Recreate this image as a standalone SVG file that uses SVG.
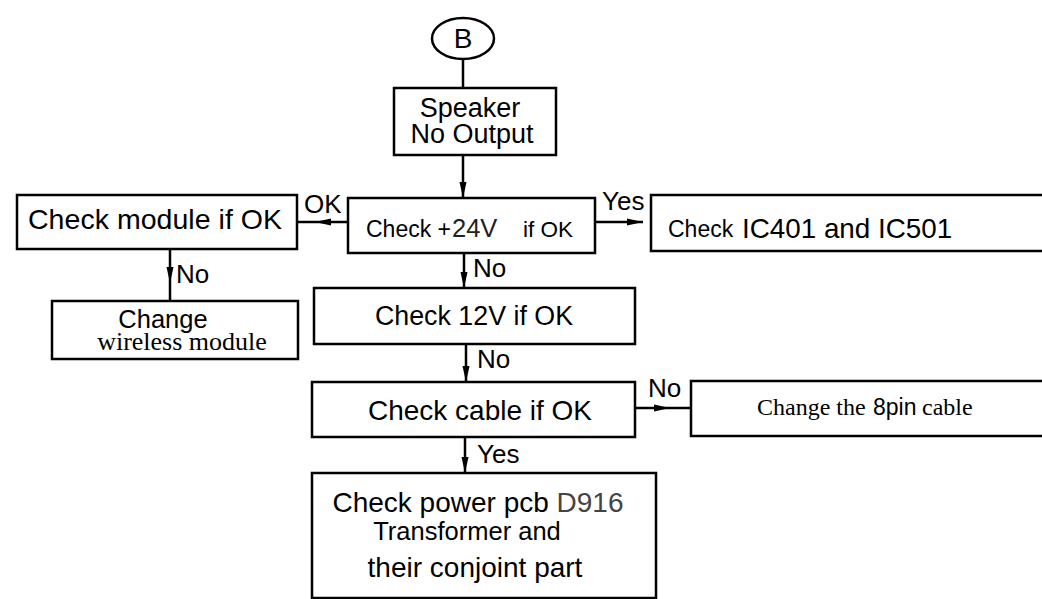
<svg xmlns="http://www.w3.org/2000/svg" width="1042" height="599" viewBox="0 0 1042 599">
<style>
.box{fill:#fff;stroke:#000;stroke-width:2.5}
.ln{fill:none;stroke:#000;stroke-width:2.5}
.t{font-family:"Liberation Sans",Arial,sans-serif;fill:#000}
.s{font-family:"Liberation Serif","Times New Roman",serif;fill:#000}
</style>
<defs>
<marker id="ah" markerUnits="userSpaceOnUse" markerWidth="16" markerHeight="8" refX="16" refY="4" orient="auto">
<path d="M0,0.5 L16,4 L0,7.5 z" fill="#000"/>
</marker>
</defs>
<g id="connectors">
<line class="ln" x1="463" y1="59" x2="463" y2="88"/>
<line class="ln" x1="463" y1="155" x2="463" y2="198" marker-end="url(#ah)"/>
<line class="ln" x1="348" y1="222" x2="315" y2="222" marker-end="url(#ah)"/>
<line class="ln" x1="315" y1="222" x2="297" y2="222"/>
<line class="ln" x1="595" y1="222" x2="643" y2="222" marker-end="url(#ah)"/>
<line class="ln" x1="170" y1="249" x2="170" y2="283" marker-end="url(#ah)"/>
<line class="ln" x1="170" y1="283" x2="170" y2="301"/>
<line class="ln" x1="464" y1="253" x2="464" y2="288" marker-end="url(#ah)"/>
<line class="ln" x1="466" y1="344" x2="466" y2="382" marker-end="url(#ah)"/>
<line class="ln" x1="635" y1="408" x2="670" y2="408" marker-end="url(#ah)"/>
<line class="ln" x1="670" y1="408" x2="691" y2="408"/>
<line class="ln" x1="465" y1="437" x2="465" y2="473" marker-end="url(#ah)"/>
<text class="t" x="304" y="213" font-size="26">OK</text>
<text class="t" x="602" y="210" font-size="26">Yes</text>
<text class="t" x="176" y="283" font-size="26">No</text>
<text class="t" x="473" y="277" font-size="26">No</text>
<text class="t" x="477" y="368" font-size="26">No</text>
<text class="t" x="648" y="397" font-size="26">No</text>
<text class="t" x="477" y="463" font-size="26">Yes</text>
</g>
<g id="nodeB">
<ellipse class="box" cx="463" cy="38.5" rx="31" ry="20.5"/>
<text class="t" x="463" y="48" font-size="28" text-anchor="middle">B</text>
</g>
<g id="speaker">
<rect class="box" x="394" y="88" width="162" height="67"/>
<text class="t" x="470" y="117" font-size="27" text-anchor="middle">Speaker</text>
<text class="t" x="472" y="143" font-size="27" text-anchor="middle">No Output</text>
</g>
<g id="check24">
<rect class="box" x="348" y="198" width="247" height="55"/>
<text class="t" x="366" y="237" font-size="23">Check +<tspan x="452" font-size="25.5" fill="#222">24V</tspan><tspan x="523" font-size="22.5">if OK</tspan></text>
</g>
<g id="checkModule">
<rect class="box" x="17" y="195" width="280" height="54"/>
<text class="t" x="28" y="229" font-size="28.5" textLength="254">Check module if OK</text>
</g>
<g id="checkIC">
<rect class="box" x="651" y="195" width="400" height="56"/>
<text class="t" x="668" y="237" font-size="23">Check</text>
<text class="t" x="742" y="238" font-size="27.8" fill="#222">IC401 and IC501</text>
</g>
<g id="changeWireless">
<rect class="box" x="52" y="301" width="246" height="58"/>
<text class="t" x="163" y="328" font-size="25.5" text-anchor="middle">Change</text>
<text class="s" x="182" y="350" font-size="26" text-anchor="middle">wireless module</text>
</g>
<g id="check12">
<rect class="box" x="314" y="288" width="321" height="56"/>
<text class="t" x="474" y="325" font-size="26.8" text-anchor="middle" fill="#333">Check 12V if OK</text>
</g>
<g id="checkCable">
<rect class="box" x="312" y="382" width="323" height="55"/>
<text class="t" x="480" y="420" font-size="28" text-anchor="middle">Check cable if OK</text>
</g>
<g id="change8pin">
<rect class="box" x="691" y="381" width="360" height="55"/>
<text class="s" x="757" y="415" font-size="24">Change the</text>
<text class="t" x="873" y="415" font-size="23" fill="#222">8pin</text>
<text class="s" x="922" y="415" font-size="24">cable</text>
</g>
<g id="checkPower">
<rect class="box" x="312" y="473" width="344" height="125"/>
<text class="t" x="478" y="512" font-size="28" text-anchor="middle">Check power pcb <tspan fill="#444">D916</tspan></text>
<text class="t" x="467" y="540" font-size="25.5" text-anchor="middle">Transformer and</text>
<text class="t" x="475" y="577" font-size="28" text-anchor="middle">their conjoint part</text>
</g>
</svg>
